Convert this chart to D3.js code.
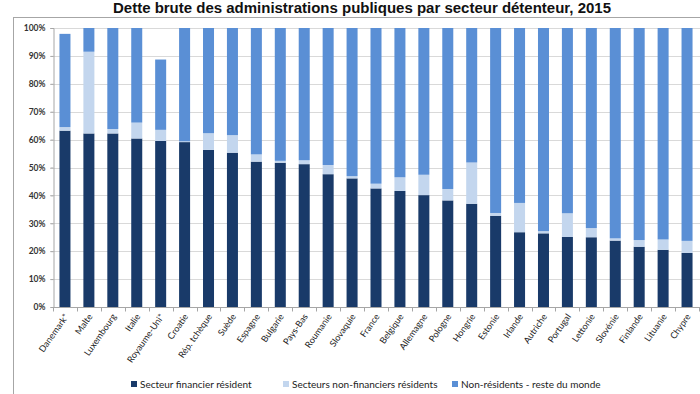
<!DOCTYPE html>
<html><head><meta charset="utf-8">
<script src="https://cdn.jsdelivr.net/npm/d3@7"></script>
<style>
html,body{margin:0;padding:0;background:#fff;}
svg{display:block;}
</style></head>
<body>
<svg id="chart" width="700" height="394"></svg>
<script>
const title = "Dette brute des administrations publiques par secteur détenteur, 2015";
const countries = ["Danemark*","Malte","Luxembourg","Italie","Royaume-Uni*","Croatie","Rép. tchèque","Suède","Espagne","Bulgarie","Pays-Bas","Roumanie","Slovaquie","France","Belgique","Allemagne","Pologne","Hongrie","Estonie","Irlande","Autriche","Portugal","Lettonie","Slovénie","Finlande","Lituanie","Chypre"];
// shares in % of total
const financierResident = [63.2,62.2,62.2,60.4,59.5,59.1,56.3,55.3,52.1,51.7,51.2,47.6,46.1,42.5,41.6,40.1,38.2,37.0,32.7,26.8,26.4,25.1,25.0,23.8,21.6,20.5,19.4];
const nonFinancierResident = [1.3,29.3,1.6,5.7,4.0,0.3,6.0,6.3,2.6,0.7,1.4,3.3,0.8,1.7,4.9,7.3,4.1,14.8,1.0,10.5,0.8,8.5,3.3,0.8,2.4,3.7,4.3];
const nonResident = [33.4,8.5,36.2,33.9,25.2,40.6,37.7,38.4,45.3,47.6,47.4,49.1,53.1,55.8,53.5,52.6,57.7,48.2,66.3,62.7,72.8,66.4,71.7,75.4,76.0,75.8,76.3];
const seriesNames = ["Secteur financier résident","Secteurs non-financiers résidents","Non-résidents - reste du monde"];
const colors = ["#193a69","#c3d6ee","#5a8fd5"];
const yTicks = [0,10,20,30,40,50,60,70,80,90,100];

const svg = d3.select("#chart");
const margin = {left:53, right:1, top:28, bottom:87};
const W = 700, H = 394;

// frame
svg.append("line").attr("x1",13).attr("x2",700).attr("y1",17.5).attr("y2",17.5).attr("stroke","#a6a6a6").attr("stroke-width",1);
svg.append("line").attr("x1",13.5).attr("x2",13.5).attr("y1",17).attr("y2",394).attr("stroke","#a6a6a6").attr("stroke-width",1);

svg.append("text").attr("x",362).attr("y",13).attr("text-anchor","middle")
  .attr("font-family","Liberation Sans, Arial, sans-serif").attr("font-weight","bold").attr("font-size",14)
  .attr("textLength",498).attr("lengthAdjust","spacingAndGlyphs")
  .attr("fill","#111").text(title);

const rows = countries.map((c,i)=>({country:c, s0:financierResident[i], s1:nonFinancierResident[i], s2:nonResident[i]}));
const stack = d3.stack().keys(["s0","s1","s2"])(rows);

const x = d3.scaleBand().domain(countries).range([margin.left, W - margin.right]).paddingInner(0.54).paddingOuter(0.27);
const y = d3.scaleLinear().domain([0,100]).range([H - margin.bottom, margin.top]);

// gridlines
svg.append("g").selectAll("line").data(yTicks.slice(1)).join("line")
  .attr("x1",margin.left-3).attr("x2",W)
  .attr("y1",d=>Math.round(y(d))+0.5).attr("y2",d=>Math.round(y(d))+0.5)
  .attr("stroke","#d9d9d9").attr("stroke-width",1);

// y axis
const yAxis = svg.append("g").attr("transform",`translate(${margin.left+0.5},0)`)
  .call(d3.axisLeft(y).tickValues(yTicks).tickFormat(d=>d+"%").tickSize(3).tickPadding(5));
yAxis.select(".domain").attr("stroke","#a6a6a6");
yAxis.selectAll(".tick line").attr("stroke","#a6a6a6");
yAxis.selectAll("text").attr("font-family","Lato, sans-serif").attr("font-size",8.5).attr("font-weight","bold").attr("fill","#333");

// bars
svg.append("g").selectAll("g").data(stack).join("g").attr("fill",(d,i)=>colors[i])
  .selectAll("rect").data(d=>d).join("rect")
  .attr("x",d=>x(d.data.country))
  .attr("width",x.bandwidth())
  .attr("y",d=>y(d[1]))
  .attr("height",d=>y(d[0])-y(d[1]));

// x axis
const step = x.step();
const xAxisG = svg.append("g").attr("transform",`translate(0,${y(0)+0.5})`);
xAxisG.append("line").attr("x1",margin.left).attr("x2",W).attr("stroke","#a6a6a6");
xAxisG.selectAll("line.tk").data(d3.range(countries.length+1)).join("line").attr("class","tk")
  .attr("x1",i=>Math.round(margin.left + i*step)+0.5).attr("x2",i=>Math.round(margin.left + i*step)+0.5)
  .attr("y1",0).attr("y2",4).attr("stroke","#a6a6a6");
xAxisG.selectAll("text").data(countries).join("text")
  .attr("transform",d=>`translate(${x(d)+x.bandwidth()/2+4},${9}) rotate(-55)`)
  .attr("text-anchor","end")
  .attr("font-family","Lato, sans-serif").attr("font-size",9).attr("fill","#222")
  .text(d=>d);

// legend
const legendX = [131,283,452];
const lg = svg.append("g");
seriesNames.forEach((n,i)=>{
  lg.append("rect").attr("x",legendX[i]).attr("y",381).attr("width",6).attr("height",6).attr("fill",colors[i]);
  lg.append("text").attr("x",legendX[i]+9).attr("y",388).attr("font-family","Lato, sans-serif")
    .attr("font-size",10).attr("fill","#222").text(n);
});
</script>
</body></html>
